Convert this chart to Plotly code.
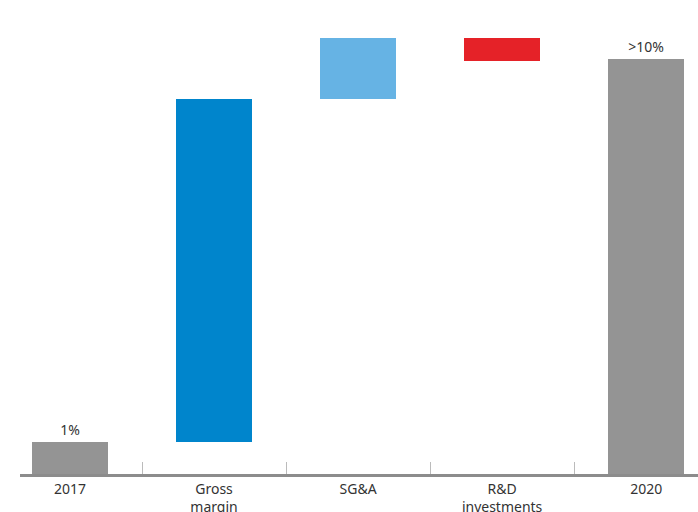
import plotly.graph_objects as go

categories = ["2017", "Gross<br>margin", "SG&A", "R&D<br>investments", "2020"]
measures = ["absolute", "relative", "relative", "relative", "absolute"]
values = [1.03, 11.07, 1.97, -0.74, 13.39]
bar_labels = ["1%", "", "", "", ">10%"]
colors = ["#949494", "#0085CC", "#66B3E4", "#E52228", "#949494"]

# compute bases / heights
bases, heights = [], []
running = 0.0
for m, v in zip(measures, values):
    if m == "absolute":
        bases.append(0.0); heights.append(v); running = v
    else:
        if v >= 0:
            bases.append(running); heights.append(v)
        else:
            bases.append(running + v); heights.append(-v)
        running += v

fig = go.Figure()
fig.add_trace(go.Bar(
    x=categories, y=heights, base=bases,
    marker=dict(color=colors, line=dict(width=0)),
    width=0.53,
    text=bar_labels, textposition="outside", cliponaxis=False,
    textfont=dict(size=14, color="#333333", family="Noto Sans"),
    hoverinfo="skip",
))

fig.update_layout(
    width=698, height=512,
    margin=dict(l=20, r=0, t=20, b=38),
    plot_bgcolor="white", paper_bgcolor="white",
    showlegend=False,
    font=dict(family="Noto Sans", size=14, color="#333333"),
    bargap=0,
)
fig.update_xaxes(
    type="category", automargin=False,
    range=[-0.347, 4.36],
    tickson="boundaries", ticks="inside", ticklen=12, tickwidth=1, tickcolor="#BBBBBB",
    showline=True, linecolor="#8C8C8C", linewidth=3,
    showgrid=False, zeroline=False,
    tickfont=dict(size=14, color="#333333"),
)
fig.update_yaxes(range=[0, 14.65], visible=False, showgrid=False, zeroline=False)

fig.write_html("out.html")
